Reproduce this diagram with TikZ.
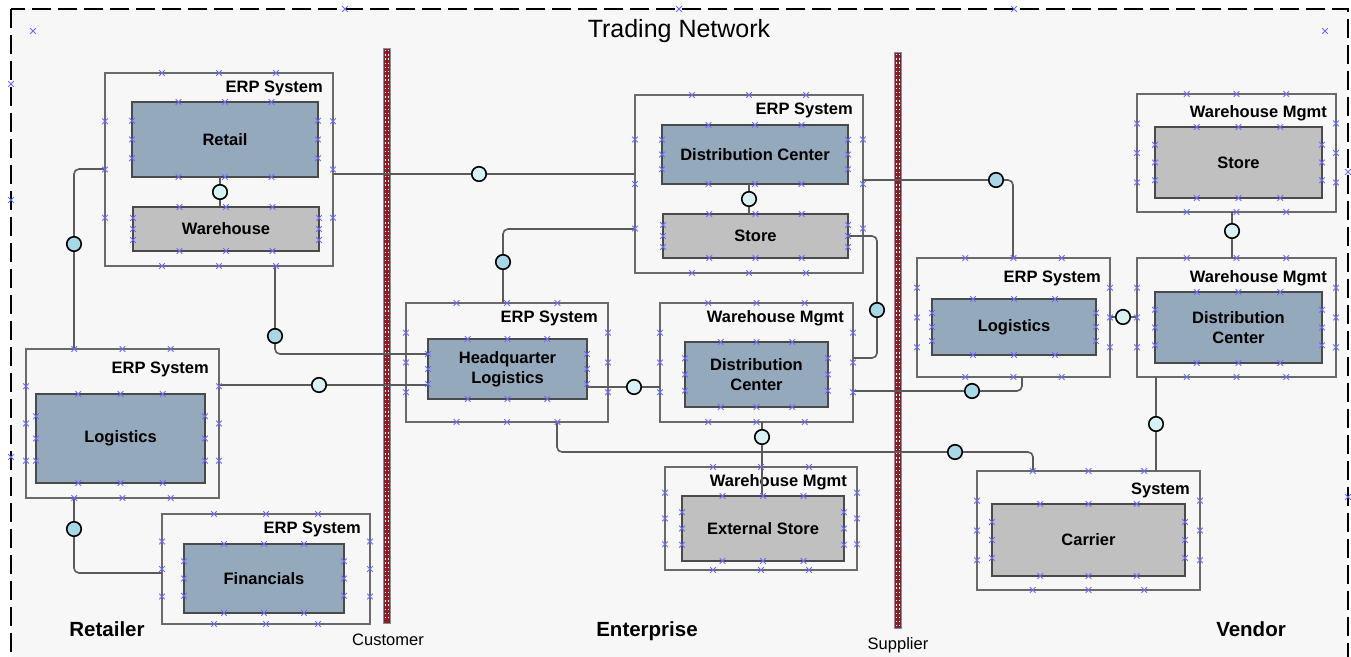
\documentclass[tikz,border=0pt]{standalone}
\usepackage{fontspec}
\setmainfont{Liberation Sans}
\usetikzlibrary{calc}

\definecolor{pagebg}{HTML}{F7F7F7}
\definecolor{boxline}{HTML}{6A6A6A}
\definecolor{coreline}{HTML}{4A4A4A}
\definecolor{corefill}{HTML}{94A9BC}
\definecolor{storefill}{HTML}{C0C0C0}
\definecolor{connline}{HTML}{5A5A5A}
\definecolor{ifacelight}{HTML}{D8F1F5}
\definecolor{ifaceblue}{HTML}{A8D8E8}
\definecolor{cptblue}{HTML}{6A6AFF}
\definecolor{barred}{HTML}{8B1E24}
\definecolor{baredge}{HTML}{8090A0}

\newcommand{\tagfont}{\fontsize{16.5}{20}\selectfont\bfseries}

\tikzset{
  frame/.style={draw=black, line width=1.8pt, dash pattern=on 19pt off 7pt},
  outerbox/.style={draw=boxline, line width=1.6pt, fill=pagebg, inner sep=0pt, outer sep=0pt},
  corebox/.style={draw=coreline, line width=1.6pt, fill=corefill, inner sep=0pt,
    outer sep=0pt, font=\tagfont, align=center},
  storebox/.style={corebox, fill=storefill},
  tag/.style={anchor=base east, inner sep=0pt, font=\tagfont},
  region/.style={anchor=base, inner sep=0pt, font=\fontsize{20.5}{24}\selectfont\bfseries},
  barlabel/.style={anchor=base, inner sep=0pt, font=\fontsize{16.5}{20}\selectfont},
  conn/.style={draw=connline, line width=1.6pt, rounded corners=5pt},
  iface/.style={circle, draw=black, line width=1.6pt, fill=ifacelight,
    minimum size=14.5pt, inner sep=0pt},
  ifacedk/.style={iface, fill=ifaceblue},
  cpt/.style={draw=cptblue, line width=0.9pt},
}

% small blue connection marks
\newcommand{\xm}[1]{\draw[cpt] #1 +(-2.8,-2.8) -- +(2.8,2.8) +(-2.8,2.8) -- +(2.8,-2.8);}
\newcommand{\cpts}[1]{%
  \foreach \f in {0.25,0.5,0.75}{%
    \xm{($(#1.north west)!\f!(#1.north east)$)}
    \xm{($(#1.south west)!\f!(#1.south east)$)}
    \xm{($(#1.north west)!\f!(#1.south west)$)}
    \xm{($(#1.north east)!\f!(#1.south east)$)}
  }}
% swimlane separator
\newcommand{\lanebar}[3]{%
  \fill[barred] (#1-3.5,#2) rectangle (#1+3.5,#3);
  \draw[white, line width=4pt, dash pattern=on 1.4pt off 2.8pt] (#1,#2+2) -- (#1,#3-2);
  \draw[barred, line width=1.2pt] (#1,#2) -- (#1,#3);
  \draw[baredge, line width=0.6pt] (#1-3.5,#2) rectangle (#1+3.5,#3);}

\begin{document}
\begin{tikzpicture}[x=1pt,y=-1pt]
  \useasboundingbox (0,0) rectangle (1351,656);
  \clip (0,0) rectangle (1351,656);
  \fill[white] (0,0) rectangle (1351,656);
  \draw[frame, fill=pagebg] (11,9) rectangle (1348,720);
  \node[anchor=base, inner sep=0pt, font=\fontsize{25}{30}\selectfont] (title) at (679,37) {Trading Network};

  % lanes
  \lanebar{387}{48}{623}
  \lanebar{898}{52}{628}
  \node[barlabel] (customer) at (388,645) {Customer};
  \node[barlabel] (supplier) at (898,649) {Supplier};
  \node[region] (retailer) at (107,636) {Retailer};
  \node[region] (enterprise) at (647,636) {Enterprise};
  \node[region] (vendor) at (1251,636) {Vendor};

  % Retailer side
  \node[outerbox, minimum width=228pt, minimum height=193pt] (erpRetail) at (219,169.5) {};
  \node[corebox, minimum width=186pt, minimum height=75pt] (retail) at (225,139.5) {Retail};
  \node[storebox, minimum width=186pt, minimum height=44pt] (warehouse) at (226,229) {Warehouse};
  \node[outerbox, minimum width=193pt, minimum height=149pt] (erpLogL) at (122.5,423.5) {};
  \node[corebox, minimum width=169pt, minimum height=89pt] (logL) at (120.5,438.5) {Logistics};
  \node[outerbox, minimum width=208pt, minimum height=110pt] (erpFin) at (266,569) {};
  \node[corebox, minimum width=160pt, minimum height=69pt] (fin) at (264,578.5) {Financials};

  % Enterprise
  \node[outerbox, minimum width=228pt, minimum height=178pt] (erpDC) at (749,184) {};
  \node[corebox, minimum width=186pt, minimum height=59pt] (dcTop) at (755,154.5) {Distribution Center};
  \node[storebox, minimum width=185pt, minimum height=44pt] (storeTop) at (755.5,236) {Store};
  \node[outerbox, minimum width=202pt, minimum height=119pt] (erpHQ) at (507,362.5) {};
  \node[corebox, minimum width=159pt, minimum height=60pt] (hq) at (507.5,369) {Headquarter\\Logistics};
  \node[outerbox, minimum width=193pt, minimum height=119pt] (wmDC) at (756.5,362.5) {};
  \node[corebox, minimum width=143pt, minimum height=65pt] (dcMid) at (756.5,374.5) {Distribution\\Center};
  \node[outerbox, minimum width=192pt, minimum height=103pt] (wmExt) at (761,518.5) {};
  \node[storebox, minimum width=162pt, minimum height=65pt] (extStore) at (763,528.5) {External Store};

  % Vendor side
  \node[outerbox, minimum width=193pt, minimum height=119pt] (erpLogR) at (1013.5,317.5) {};
  \node[corebox, minimum width=164pt, minimum height=56pt] (logR) at (1014,327) {Logistics};
  \node[outerbox, minimum width=199pt, minimum height=118pt] (wmStore) at (1236.5,153) {};
  \node[storebox, minimum width=167pt, minimum height=71pt] (storeR) at (1238.5,162.5) {Store};
  \node[outerbox, minimum width=199pt, minimum height=119pt] (wmDCR) at (1236.5,317.5) {};
  \node[corebox, minimum width=167pt, minimum height=71pt] (dcR) at (1238.5,327.5) {Distribution\\Center};
  \node[outerbox, minimum width=223pt, minimum height=119pt] (sysCar) at (1088.5,530.5) {};
  \node[storebox, minimum width=193pt, minimum height=72pt] (carrier) at (1088.5,540) {Carrier};

  % system tags
  \node[tag] (tRetail) at (323,92) {ERP System};
  \node[tag] (tLogL) at (209,373) {ERP System};
  \node[tag] (tFin) at (361,533) {ERP System};
  \node[tag] (tDC) at (853,114) {ERP System};
  \node[tag] (tHQ) at (598,322) {ERP System};
  \node[tag] (tWmDC) at (844,322) {Warehouse Mgmt};
  \node[tag] (tWmExt) at (847,486) {Warehouse Mgmt};
  \node[tag] (tLogR) at (1101,282) {ERP System};
  \node[tag] (tWmStore) at (1327,117) {Warehouse Mgmt};
  \node[tag] (tWmDCR) at (1327,282) {Warehouse Mgmt};
  \node[tag] (tSys) at (1190,494) {System};

  % connectors
  \draw[conn] (retail.south -| 220,0) -- (warehouse.north -| 220,0);
  \draw[conn] (dcTop.south -| 749,0) -- (storeTop.north -| 749,0);
  \draw[conn] (erpRetail.east |- 0,174) -- (erpDC.west |- 0,174);
  \draw[conn] (erpRetail.west |- 0,169) -| (erpLogL.north -| 74,0);
  \draw[conn] (erpRetail.south -| 275,0) |- (hq.west |- 0,354);
  \draw[conn] (erpLogL.east |- 0,385) -- (hq.west |- 0,385);
  \draw[conn] (erpLogL.south -| 74,0) |- (erpFin.west |- 0,573);
  \draw[conn] (erpDC.west |- 0,229) -| (erpHQ.north -| 503,0);
  \draw[conn] (hq.east |- 0,387) -- (wmDC.west |- 0,387);
  \draw[conn] (storeTop.east |- 0,236) -- (877,236) -- (877,358) -- (wmDC.east |- 0,358);
  \draw[conn] (erpDC.east |- 0,180) -| (erpLogR.north -| 1013,0);
  \draw[conn] (wmDC.east |- 0,391) -| (erpLogR.south -| 1022,0);
  \draw[conn] (erpLogR.east |- 0,317) -- (wmDCR.west |- 0,317);
  \draw[conn] (wmStore.south -| 1232,0) -- (wmDCR.north -| 1232,0);
  \draw[conn] (wmDCR.south -| 1156,0) -- (sysCar.north -| 1156,0);
  \draw[conn] (erpHQ.south -| 557,0) -- (557,452) -- (1033,452) -- (sysCar.north -| 1033,0);
  \draw[conn] (wmDC.south -| 762,0) -- (extStore.north -| 762,0);

  % interfaces
  \node[iface] (iRetWh) at (220,192) {};
  \node[iface] (iDcSt) at (749,199) {};
  \node[iface] (iRetDC) at (479,174) {};
  \node[ifacedk] (iRetLog) at (74,244) {};
  \node[ifacedk] (iRetHQ) at (275,336) {};
  \node[iface] (iLogHQ) at (319,385) {};
  \node[ifacedk] (iLogFin) at (74,529) {};
  \node[ifacedk] (iDCHQ) at (503,262) {};
  \node[iface] (iHQWm) at (634,387) {};
  \node[ifacedk] (iStWm) at (877,310) {};
  \node[ifacedk] (iDCLog) at (996,180) {};
  \node[ifacedk] (iWmLog) at (972,391) {};
  \node[iface] (iLogWm) at (1123,317) {};
  \node[iface] (iStDC) at (1232,231) {};
  \node[iface] (iDCSys) at (1156,424) {};
  \node[ifacedk] (iHQSys) at (955,452) {};
  \node[iface] (iWmExt) at (762,437) {};

  % connection marks
  \foreach \b in {erpRetail,retail,warehouse,erpLogL,logL,erpFin,fin,erpDC,dcTop,storeTop,
    erpHQ,hq,wmDC,dcMid,wmExt,extStore,erpLogR,logR,wmStore,storeR,wmDCR,dcR,sysCar,carrier}
    {\cpts{\b}}
  \foreach \p in {(345,9),(679,9),(1014,9),(11,84),(11,200),(11,457),(1348,172),(1348,497),(33,31),(1325,31)}
    {\xm{\p}}
\end{tikzpicture}
\end{document}
